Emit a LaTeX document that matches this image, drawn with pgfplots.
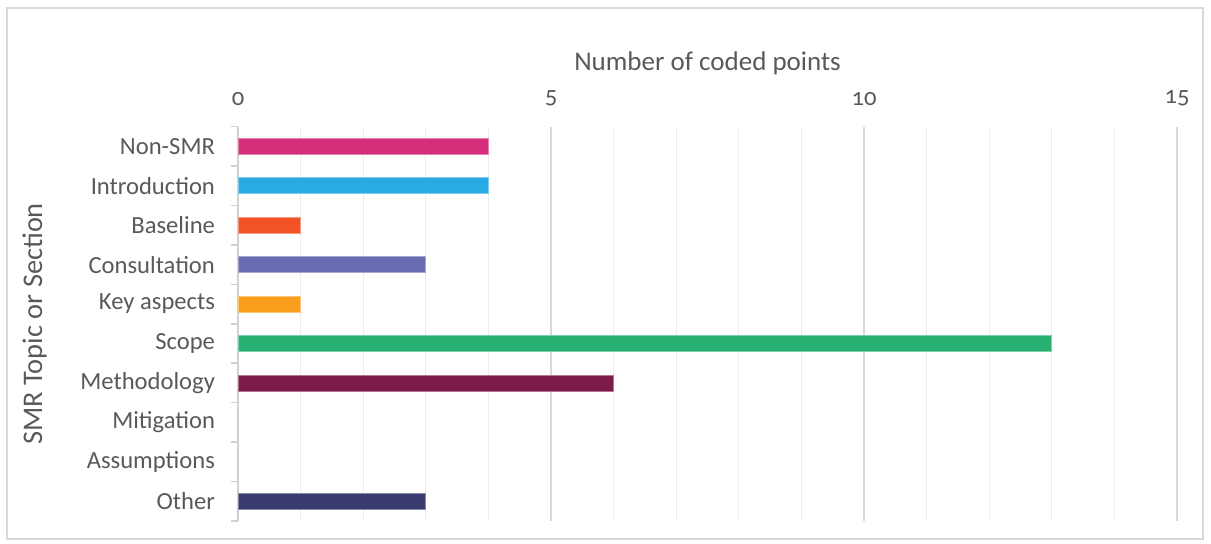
\documentclass[border=0pt]{standalone}
\usepackage{pgfplots}
\pgfplotsset{compat=1.18}
\usepackage{fontspec}
\setmainfont[Numbers=OldStyle]{Carlito}
\definecolor{txt}{HTML}{595959}
\definecolor{cNon}{HTML}{D42E7B}
\definecolor{cIntro}{HTML}{29AAE2}
\definecolor{cBase}{HTML}{F15226}
\definecolor{cCons}{HTML}{6A6CB2}
\definecolor{cKey}{HTML}{F99D1C}
\definecolor{cScope}{HTML}{29B173}
\definecolor{cMeth}{HTML}{7D1B49}
\definecolor{cOther}{HTML}{393B6E}
\begin{document}
\begin{tikzpicture}
\useasboundingbox (-119pt,-11.5pt) rectangle (486.5pt,260.5pt);
\draw[color=black!15,line width=0.6pt] (-115.5pt,-9pt) rectangle (482.5pt,256.5pt);
\begin{axis}[
  at={(0,0)}, anchor=south west,
  scale only axis, width=469.5pt, height=197.2pt,
  xbar, bar width=8pt, bar shift=0pt,
  xmin=0, xmax=15,
  ymin=-0.5, ymax=9.5, y dir=reverse,
  xtick={0,5,10,15}, minor xtick={0,1,...,15},
  xticklabel pos=upper,
  xmajorgrids, xminorgrids,
  major grid style={color=black!15, line width=0.6pt},
  minor grid style={color=black!7, line width=0.6pt},
  axis x line*=top, x axis line style={draw=none},
  axis y line*=left,
  y axis line style={color=black!18, line width=0.8pt},
  x tick style={draw=none},
  ytick={0,...,9},
  yticklabels={Non-SMR,Introduction,Baseline,Consultation,Key aspects,Scope,Methodology,Mitigation,Assumptions,Other},
  minor ytick={-0.5,0.5,...,9.5},
  y tick style={draw=none},
  minor y tick style={draw=black!18, line width=0.8pt},
  minor tick length=3.5pt, tick align=outside,
  major tick length=0pt,
  ticklabel style={font=\fontsize{12.3}{14}\selectfont, text=txt},
  yticklabel style={xshift=-8pt},
  xticklabel style={yshift=7pt},
  /pgf/number format/assume math mode=true,
  xlabel={Number of coded points},
  ylabel={SMR Topic or Section},
  label style={text=txt},
  xlabel style={yshift=0.5pt, font=\fontsize{13.5}{16}\selectfont},
  ylabel style={yshift=10pt, font=\fontsize{14.2}{16}\selectfont},
  clip=false,
]
\addplot[fill=cNon, draw=cNon!60!white] coordinates {(4,0)};
\addplot[fill=cIntro, draw=cIntro!60!white] coordinates {(4,1)};
\addplot[fill=cBase, draw=cBase!60!white] coordinates {(1,2)};
\addplot[fill=cCons, draw=cCons!60!white] coordinates {(3,3)};
\addplot[fill=cKey, draw=cKey!60!white] coordinates {(1,4)};
\addplot[fill=cScope, draw=cScope!60!white] coordinates {(13,5)};
\addplot[fill=cMeth, draw=cMeth!60!white] coordinates {(6,6)};
\addplot[fill=cOther, draw=cOther!60!white] coordinates {(3,9)};
\end{axis}
\end{tikzpicture}
\end{document}
